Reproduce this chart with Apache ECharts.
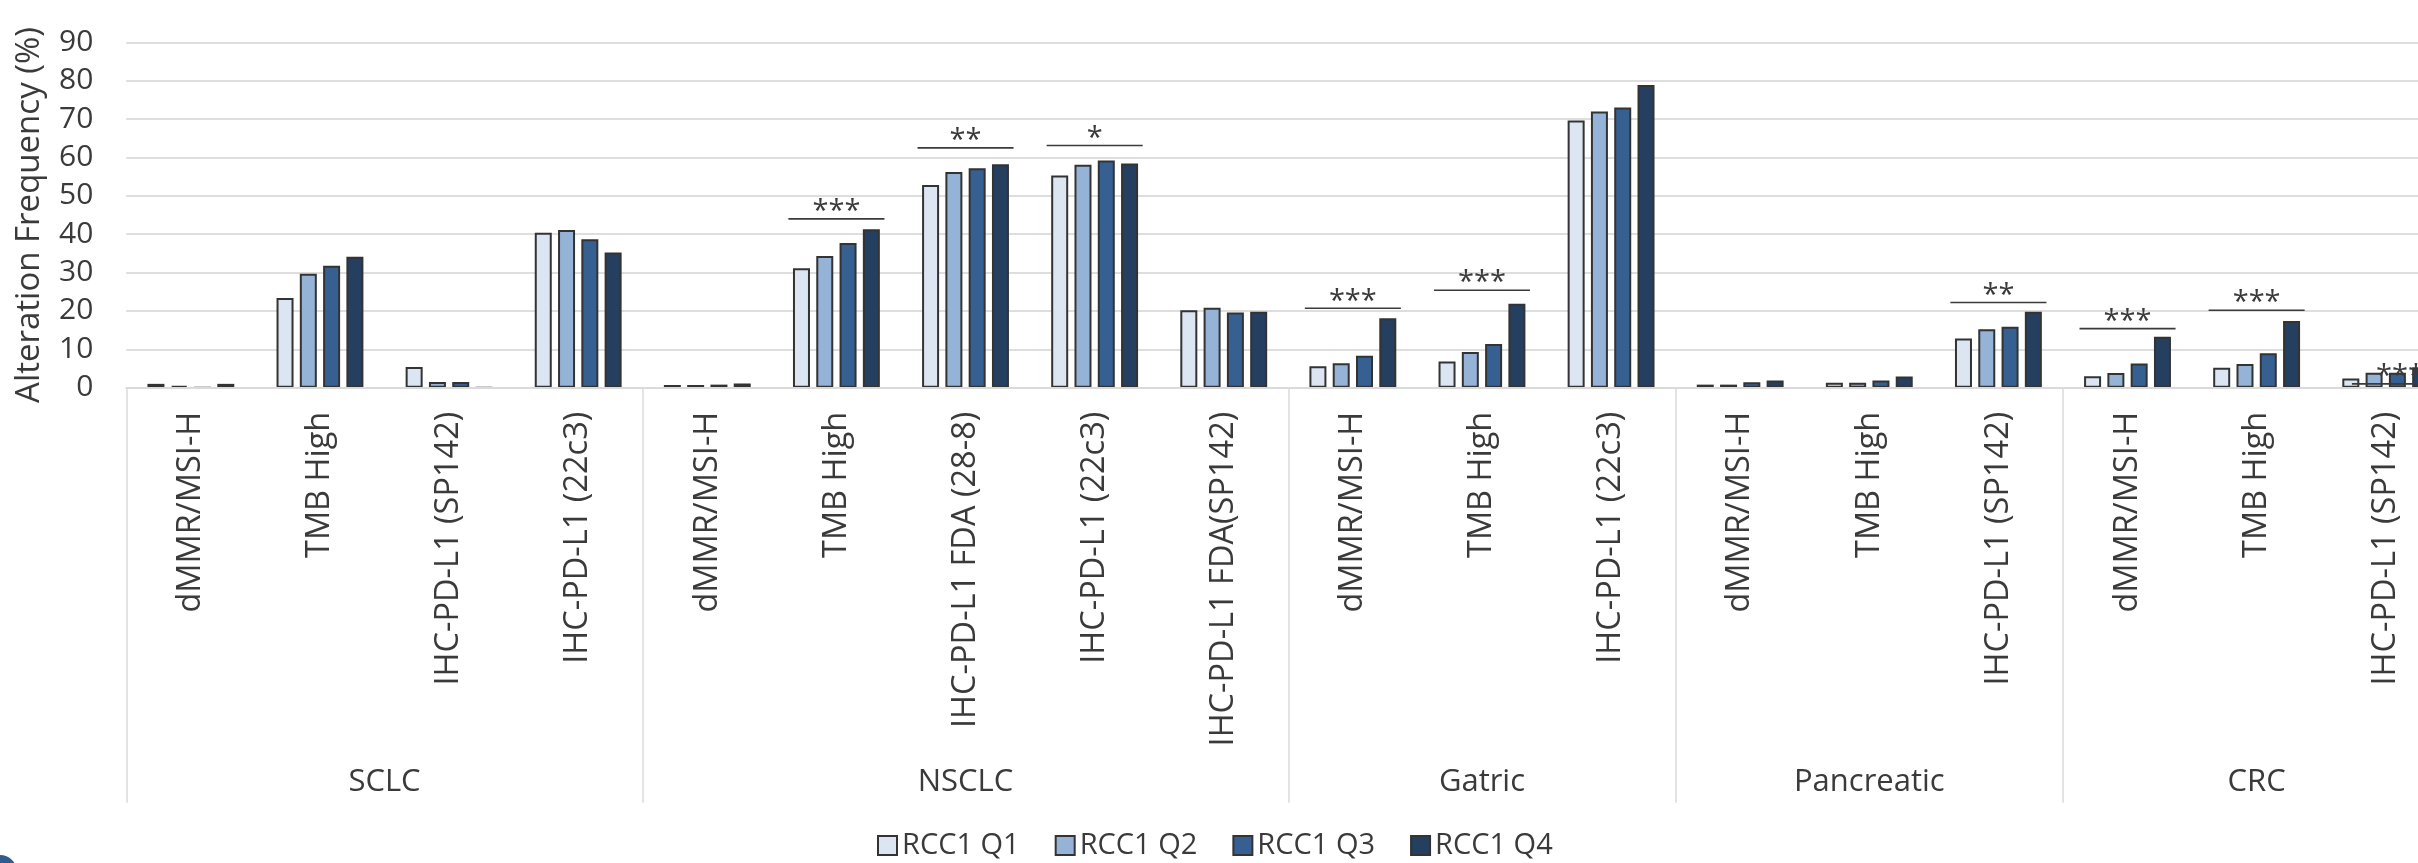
<!DOCTYPE html>
<html>
<head>
<meta charset="utf-8">
<script src="https://cdn.jsdelivr.net/npm/echarts@6/dist/echarts.min.js"></script>
<style>
  html, body { margin: 0; padding: 0; background: #ffffff; }
  #chart { width: 2418px; height: 863px; }
</style>
</head>
<body>
<div id="chart"></div>
<script>
// Biomarker categories, grouped by tumour type
const categories = [
  'dMMR/MSI-H', 'TMB High', 'IHC-PD-L1 (SP142)', 'IHC-PD-L1 (22c3)',
  'dMMR/MSI-H', 'TMB High', 'IHC-PD-L1 FDA (28-8)', 'IHC-PD-L1 (22c3)', 'IHC-PD-L1 FDA(SP142)',
  'dMMR/MSI-H', 'TMB High', 'IHC-PD-L1 (22c3)',
  'dMMR/MSI-H', 'TMB High', 'IHC-PD-L1 (SP142)',
  'dMMR/MSI-H', 'TMB High', 'IHC-PD-L1 (SP142)'
];
const groupNames = ['SCLC', 'NSCLC', 'Gatric', 'Pancreatic', 'CRC'];
const groupSizes = [4, 5, 3, 3, 3];

// Alteration frequency (%) per RCC1 quartile
const seriesNames = ['RCC1 Q1', 'RCC1 Q2', 'RCC1 Q3', 'RCC1 Q4'];
const q1 = [1.0, 23.4, 5.4, 40.4, 0.7, 31.1, 52.8, 55.3, 20.2, 5.6, 6.8, 69.6, 0.8, 1.3, 12.8, 3.0, 5.2, 2.4];
const q2 = [0.5, 29.7, 1.5, 41.1, 0.7, 34.3, 56.2, 58.1, 20.8, 6.4, 9.3, 72.0, 0.8, 1.3, 15.2, 3.8, 6.2, 3.9];
const q3 = [0.0, 31.8, 1.5, 38.7, 0.8, 37.7, 57.2, 59.2, 19.6, 8.3, 11.4, 73.0, 1.4, 1.9, 15.9, 6.3, 9.0, 3.9];
const q4 = [1.0, 34.1, 0.0, 35.2, 1.1, 41.3, 58.2, 58.4, 19.8, 18.1, 21.9, 78.9, 1.9, 2.9, 19.8, 13.3, 17.4, 5.3];

// Significance brackets: category index, bracket height (%), stars, horizontal nudge (in categories)
const sigCategory = [5, 6, 7, 9, 10, 14, 15, 16, 17];
const sigLevel    = [44.0, 62.5, 63.1, 20.7, 25.4, 22.2, 15.4, 20.2, 1.0];
const sigStars    = ['***', '**', '*', '***', '***', '**', '***', '***', '***'];
const sigNudge    = [0, 0, 0, 0, 0, 0, 0, 0, 0.11];

const yTicks = { min: 0, max: 90, interval: 10 };

const colors = ['#DCE6F2', '#95B3D7', '#376092', '#253F60'];
const textColor = '#3a3a3a';
const fontFamily = "'Open Sans', 'Noto Sans', sans-serif";

// group boundaries and centres on a 0..N scale
const boundaries = [0];
groupSizes.forEach(s => boundaries.push(boundaries[boundaries.length - 1] + s));
const centres = groupSizes.map((s, i) => boundaries[i] + s / 2);

const valueSets = [q1, q2, q3, q4];
const barSeries = seriesNames.map((name, i) => ({
  name: name,
  type: 'bar',
  xAxisIndex: 0,
  yAxisIndex: 0,
  data: valueSets[i],
  barWidth: 17,
  barGap: '37%',
  itemStyle: { color: colors[i], borderColor: '#333333', borderWidth: 2 },
  emphasis: { disabled: true },
  z: 2
}));

const sigData = sigCategory.map((c, i) => [c, sigLevel[i], sigNudge[i], sigStars[i]]);

const sigSeries = {
  type: 'custom',
  name: 'sig',
  xAxisIndex: 0,
  yAxisIndex: 0,
  data: sigData,
  z: 5,
  silent: true,
  clip: false,
  renderItem: function (params, api) {
    const p = api.coord([api.value(0), api.value(1)]);
    const band = api.size([1, 0])[0];
    const cx = p[0] + api.value(2) * band;
    const half = band * 0.372;
    return {
      type: 'group',
      children: [
        {
          type: 'line',
          shape: { x1: cx - half, y1: p[1], x2: cx + half, y2: p[1] },
          style: { stroke: '#3a3a3a', lineWidth: 1.6 }
        },
        {
          type: 'text',
          style: {
            text: sigData[params.dataIndex][3],
            x: cx,
            y: p[1] - 7,
            align: 'center',
            verticalAlign: 'middle',
            fill: '#3a3a3a',
            font: '29px ' + fontFamily
          }
        }
      ]
    };
  }
};

const chart = echarts.init(document.getElementById('chart'), null, { renderer: 'canvas' });

chart.setOption({
  animation: false,
  backgroundColor: '#ffffff',
  textStyle: { fontFamily: fontFamily },
  grid: {
    left: 126.3,
    right: -32.3,
    top: 42.3,
    bottom: 475.3,
    containLabel: false,
    outerBoundsMode: 'none'
  },
  legend: {
    data: seriesNames,
    left: 872,
    top: 826,
    itemWidth: 19,
    itemHeight: 19,
    itemGap: 35,
    icon: 'rect',
    textStyle: { fontSize: 29, color: textColor, fontFamily: fontFamily },
    selectedMode: false
  },
  xAxis: [
    {
      type: 'category',
      position: 'bottom',
      data: categories,
      z: 4,
      axisLine: { show: true, lineStyle: { color: '#DADADA', width: 2 } },
      axisTick: { show: false },
      axisLabel: {
        interval: 0,
        rotate: 90,
        margin: 24,
        fontSize: 32.5,
        color: textColor,
        fontFamily: fontFamily
      },
      splitLine: { show: false }
    },
    {
      type: 'value',
      position: 'bottom',
      min: 0,
      max: categories.length,
      z: 4,
      axisLine: { show: false },
      axisTick: {
        show: true,
        inside: false,
        length: 415,
        customValues: boundaries,
        lineStyle: { color: '#DADADA', width: 1.5 }
      },
      axisLabel: {
        show: true,
        customValues: centres,
        margin: 394,
        verticalAlign: 'middle',
        fontSize: 31,
        color: textColor,
        fontFamily: fontFamily,
        formatter: function (v) {
          const k = centres.findIndex(c => Math.abs(c - v) < 1e-6);
          return k >= 0 ? groupNames[k] : '';
        }
      },
      splitLine: { show: false }
    }
  ],
  yAxis: {
    type: 'value',
    min: yTicks.min,
    max: yTicks.max,
    interval: yTicks.interval,
    name: 'Alteration Frequency (%)',
    nameLocation: 'middle',
    nameGap: 80,
    nameTextStyle: { fontSize: 33, color: textColor, fontFamily: fontFamily },
    axisLine: { show: false },
    axisTick: { show: false },
    axisLabel: { margin: 33, fontSize: 30, color: textColor, fontFamily: fontFamily },
    splitLine: { show: true, lineStyle: { color: '#DEDEDE', width: 2 } }
  },
  graphic: [
    {
      type: 'circle',
      shape: { cx: 0, cy: 872, r: 17 },
      style: { fill: '#2F5B8E' },
      silent: true
    }
  ],
  series: barSeries.concat([sigSeries])
});
</script>
</body>
</html>
